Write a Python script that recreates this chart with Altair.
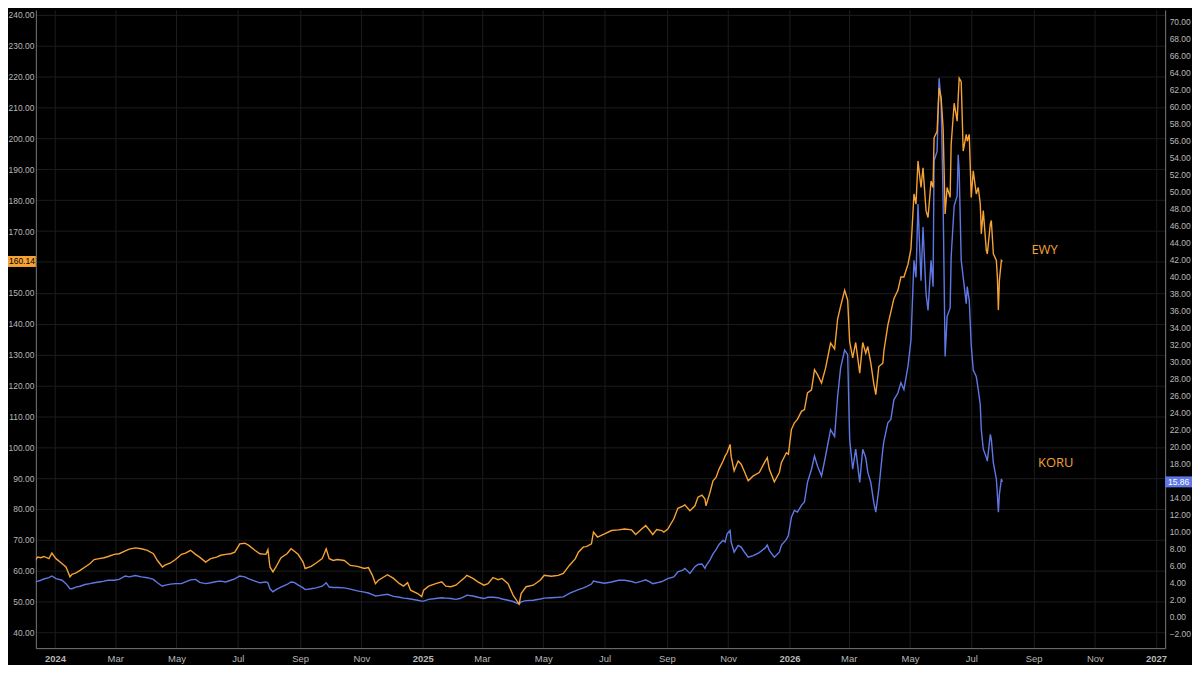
import altair as alt
import pandas as pd

# ---------------- data ----------------
dates = [
    "2023-12-07", "2023-12-12", "2023-12-15", "2023-12-18", "2023-12-21", "2023-12-26", "2023-12-29",
    "2024-01-02", "2024-01-08", "2024-01-12", "2024-01-16", "2024-01-18", "2024-01-22", "2024-01-26",
    "2024-01-31", "2024-02-05", "2024-02-09", "2024-02-14", "2024-02-19", "2024-02-23", "2024-02-29",
    "2024-03-05", "2024-03-11", "2024-03-15", "2024-03-21", "2024-03-27", "2024-04-02", "2024-04-08",
    "2024-04-12", "2024-04-17", "2024-04-19", "2024-04-25", "2024-04-30", "2024-05-06", "2024-05-10",
    "2024-05-15", "2024-05-20", "2024-05-24", "2024-05-30", "2024-06-04", "2024-06-10", "2024-06-14",
    "2024-06-19", "2024-06-24", "2024-06-28", "2024-07-03", "2024-07-08", "2024-07-12", "2024-07-18",
    "2024-07-23", "2024-07-29", "2024-07-31", "2024-08-02", "2024-08-05", "2024-08-08", "2024-08-13",
    "2024-08-19", "2024-08-23", "2024-08-26", "2024-08-30", "2024-09-04", "2024-09-06", "2024-09-12",
    "2024-09-17", "2024-09-23", "2024-09-27", "2024-09-30", "2024-10-04", "2024-10-08", "2024-10-15",
    "2024-10-21", "2024-10-28", "2024-11-04", "2024-11-08", "2024-11-12", "2024-11-15", "2024-11-18",
    "2024-11-27", "2024-12-03", "2024-12-09", "2024-12-13", "2024-12-17", "2024-12-20", "2024-12-27",
    "2024-12-31", "2025-01-02", "2025-01-07", "2025-01-14", "2025-01-20", "2025-01-24", "2025-01-29",
    "2025-02-03", "2025-02-07", "2025-02-12", "2025-02-14", "2025-02-20", "2025-02-25", "2025-03-03",
    "2025-03-07", "2025-03-12", "2025-03-17", "2025-03-21", "2025-03-27", "2025-04-01", "2025-04-07",
    "2025-04-09", "2025-04-14", "2025-04-21", "2025-04-28", "2025-05-02", "2025-05-09", "2025-05-16",
    "2025-05-21", "2025-05-27", "2025-06-02", "2025-06-05", "2025-06-10", "2025-06-13", "2025-06-18",
    "2025-06-20", "2025-06-24", "2025-07-01", "2025-07-08", "2025-07-15", "2025-07-21", "2025-07-28",
    "2025-08-01", "2025-08-07", "2025-08-11", "2025-08-15", "2025-08-18", "2025-08-22", "2025-08-27",
    "2025-08-29", "2025-09-02", "2025-09-08", "2025-09-12", "2025-09-17", "2025-09-19", "2025-09-24",
    "2025-09-29", "2025-10-02", "2025-10-06", "2025-10-09", "2025-10-10", "2025-10-14", "2025-10-17",
    "2025-10-20", "2025-10-23", "2025-10-27", "2025-10-29", "2025-10-31", "2025-11-03", "2025-11-04",
    "2025-11-07", "2025-11-11", "2025-11-14", "2025-11-17", "2025-11-21", "2025-11-26", "2025-12-02",
    "2025-12-08", "2025-12-10", "2025-12-12", "2025-12-17", "2025-12-22", "2025-12-24", "2025-12-29",
    "2025-12-31", "2026-01-03", "2026-01-06", "2026-01-09", "2026-01-13", "2026-01-16", "2026-01-19",
    "2026-01-23", "2026-01-26", "2026-01-29", "2026-02-02", "2026-02-06", "2026-02-11", "2026-02-15",
    "2026-02-18", "2026-02-21", "2026-02-25", "2026-02-28", "2026-03-02", "2026-03-05", "2026-03-08",
    "2026-03-12", "2026-03-15", "2026-03-18", "2026-03-20", "2026-03-23", "2026-03-26", "2026-03-28",
    "2026-03-31", "2026-04-04", "2026-04-05", "2026-04-09", "2026-04-12", "2026-04-15", "2026-04-19",
    "2026-04-22", "2026-04-25", "2026-04-29", "2026-05-02", "2026-05-05", "2026-05-07", "2026-05-09",
    "2026-05-12", "2026-05-14", "2026-05-17", "2026-05-19", "2026-05-22", "2026-05-24", "2026-05-25",
    "2026-05-28", "2026-05-30", "2026-06-01", "2026-06-03", "2026-06-05", "2026-06-07", "2026-06-10",
    "2026-06-11", "2026-06-14", "2026-06-17", "2026-06-18", "2026-06-19", "2026-06-21", "2026-06-23",
    "2026-06-26", "2026-06-27", "2026-06-29", "2026-07-01", "2026-07-03", "2026-07-06", "2026-07-08",
    "2026-07-10", "2026-07-11", "2026-07-13", "2026-07-16", "2026-07-17", "2026-07-20", "2026-07-21",
    "2026-07-23", "2026-07-26", "2026-07-27", "2026-07-28", "2026-07-29", "2026-07-31", "2026-08-01",
]

ewy = [
    61.4, 63.3, 64.4, 64.2, 64.6, 63.9, 65.7,
    63.9, 62.3, 61.2, 58.0, 58.8, 59.3, 60.1,
    61.2, 62.3, 63.6, 63.9, 64.2, 64.6, 65.3,
    65.5, 66.4, 67.0, 67.4, 67.1, 66.6, 65.5,
    63.3, 61.2, 61.7, 62.5, 63.6, 65.3, 65.7,
    66.6, 65.3, 64.4, 62.8, 63.9, 64.4, 65.0,
    65.3, 65.5, 66.0, 68.7, 68.9, 68.2, 66.6,
    65.5, 65.3, 66.8, 61.2, 59.6, 61.2, 64.2,
    65.5, 67.1, 66.4, 65.3, 62.8, 60.7, 61.4,
    62.5, 63.9, 67.1, 63.9, 63.3, 63.6, 63.3,
    61.7, 61.4, 60.7, 61.0, 58.5, 55.8, 56.9,
    58.7, 57.5, 55.8, 55.0, 56.1, 53.7, 52.6,
    51.6, 53.7, 55.0, 55.8, 56.4, 55.0, 54.8,
    55.3, 56.4, 57.8, 58.5, 57.5, 56.4, 55.3,
    55.8, 57.8, 57.1, 57.5, 55.8, 52.1, 49.2,
    52.6, 54.8, 55.3, 56.9, 58.5, 58.2, 58.5,
    59.1, 61.7, 63.9, 66.0, 67.7, 67.8, 68.7,
    72.5, 70.9, 71.9, 73.0, 73.2, 73.5, 73.2,
    71.7, 73.5, 74.6, 73.0, 71.7, 73.3, 73.0,
    72.5, 73.5, 76.8, 80.2, 80.9, 81.3, 79.4,
    81.0, 83.8, 84.5, 83.2, 81.0, 85.4, 89.1,
    90.2, 92.9, 95.5, 97.1, 98.2, 100.9, 97.1,
    92.3, 95.5, 94.5, 92.3, 89.1, 90.7, 91.8,
    95.5, 96.6, 92.9, 88.8, 91.8, 95.0, 98.2,
    97.7, 105.7, 107.9, 109.0, 111.6, 112.2, 117.6,
    118.6, 125.1, 123.5, 120.8, 125.6, 133.7, 131.8,
    141.5, 145.7, 150.8, 147.6, 134.2, 128.9, 133.9,
    124.0, 133.9, 130.4, 132.6, 127.3, 120.6, 117.0,
    126.1, 127.2, 131.0, 139.5, 143.8, 148.1, 150.8,
    155.1, 155.1, 159.2, 164.2, 182.0, 178.7, 192.7,
    184.1, 190.5, 176.6, 174.4, 186.2, 184.1, 200.2,
    202.3, 216.3, 213.1, 203.4, 175.5, 184.1, 180.9,
    198.0, 211.4, 205.6, 213.0, 219.5, 218.4, 195.9,
    201.3, 199.1, 201.3, 180.9, 189.5, 182.0, 184.1,
    178.7, 169.1, 176.6, 163.7, 162.6, 172.3, 173.4,
    162.6, 160.5, 155.1, 144.4, 154.0, 160.5, 160.14,
]

koru = [
    3.7, 4.1, 4.2, 4.3, 4.45, 4.6, 4.8,
    4.5, 4.3, 3.9, 3.3, 3.3, 3.5, 3.6,
    3.8, 3.9, 4.0, 4.1, 4.2, 4.3, 4.3,
    4.4, 4.8, 4.7, 4.85, 4.7, 4.6, 4.4,
    4.0, 3.6, 3.7, 3.85, 3.9, 3.9, 4.1,
    4.35, 4.4, 4.05, 3.9, 4.0, 4.15, 4.2,
    4.1, 4.3, 4.45, 4.8, 4.7, 4.45, 4.2,
    4.0, 4.1, 4.0, 3.3, 2.95, 3.2, 3.5,
    3.8, 4.1, 4.05, 3.75, 3.4, 3.2, 3.3,
    3.4, 3.6, 4.0, 3.5, 3.45, 3.45, 3.4,
    3.25, 3.05, 2.9, 2.8, 2.6, 2.45, 2.5,
    2.65, 2.4, 2.3, 2.2, 2.15, 2.1, 1.95,
    1.85, 1.85, 2.05, 2.15, 2.25, 2.2, 2.15,
    2.05, 2.15, 2.4, 2.55, 2.45, 2.3, 2.15,
    2.3, 2.3, 2.25, 2.1, 1.95, 1.8, 1.5,
    1.75, 1.9, 1.95, 2.1, 2.2, 2.25, 2.3,
    2.35, 2.75, 3.05, 3.2, 3.4, 3.55, 3.85,
    4.2, 4.1, 3.95, 4.1, 4.3, 4.3, 4.15,
    4.0, 4.2, 4.35, 4.1, 3.9, 4.0, 4.15,
    4.25, 4.5, 4.7, 5.3, 5.5, 5.7, 5.1,
    5.9, 6.15, 6.2, 5.7, 6.0, 6.7, 7.4,
    7.9, 8.5, 9.0, 8.8, 9.75, 10.15, 8.8,
    7.6, 8.4, 8.2, 7.65, 7.0, 7.2, 7.55,
    8.1, 8.45, 7.8, 7.0, 7.6, 8.4, 9.1,
    9.55, 11.7, 12.5, 12.3, 13.1, 13.5, 15.8,
    17.35, 18.9, 17.7, 16.55, 18.9, 22.0, 21.2,
    25.9, 29.25, 31.35, 30.8, 20.85, 17.35, 19.7,
    15.8, 19.7, 18.7, 17.0, 15.8, 13.45, 12.3,
    15.0, 19.7, 20.6, 22.8, 23.2, 25.5, 26.3,
    27.5, 26.7, 29.4, 32.5, 41.9, 39.9, 48.5,
    39.5, 45.8, 38.0, 36.0, 41.9, 38.8, 53.6,
    54.7, 63.3, 60.6, 48.9, 30.6, 35.3, 36.3,
    42.3, 48.3, 49.5, 54.3, 52.4, 41.9, 39.9,
    36.8, 38.8, 37.2, 31.9, 29.0, 28.25, 26.7,
    24.9, 22.0, 19.7, 18.75, 18.3, 21.45, 20.85,
    18.1, 16.2, 14.4, 12.3, 14.4, 16.2, 15.86,
]

x_ticks = [
    "2024-01-01", "2024-03-01", "2024-05-01", "2024-07-01", "2024-09-01", "2024-11-01",
    "2025-01-01", "2025-03-01", "2025-05-01", "2025-07-01", "2025-09-01", "2025-11-01",
    "2026-01-01", "2026-03-01", "2026-05-01", "2026-07-01", "2026-09-01", "2026-11-01",
    "2027-01-01",
]
ewy_ticks = [40, 50, 60, 70, 80, 90, 100, 110, 120, 130, 140, 150, 160, 170, 180, 190,
             200, 210, 220, 230, 240]
koru_ticks = [-4, -2, 0, 2, 4, 6, 8, 10, 12, 14, 16, 18, 20, 22, 24, 26, 28, 30, 32, 34,
              36, 38, 40, 42, 44, 46, 48, 50, 52, 54, 56, 58, 60, 62, 64, 66, 68, 70, 72]

ann_ewy_label, ann_ewy_date, ann_ewy_value = "EWY", "2026-09-12", 164.0
ann_koru_label, ann_koru_date, ann_koru_value = "KORU", "2026-09-23", 18.05

# ---------------- styling ----------------
ORANGE = "#F6A235"
BLUE = "#5F78E6"
BG = "#000000"
GRID = "#1c1c1c"
AXIS_LINE = "#7a7a7a"
LABEL = "#b8b8b8"
FONT = "Liberation Sans"
PLOT_W, PLOT_H = 1136, 642


def ms(s):
    return int(pd.Timestamp(s).value // 10**6)


df = pd.DataFrame({"date": dates, "EWY": ewy, "KORU": koru})
badge_l = pd.DataFrame({"EWY": [ewy[-1]], "label": [f"{ewy[-1]:.2f}"]})
badge_r = pd.DataFrame({"KORU": [koru[-1]], "label": [f"{koru[-1]:.2f}"]})
ann_l = pd.DataFrame({"date": [ann_ewy_date], "EWY": [ann_ewy_value], "label": [ann_ewy_label]})
ann_r = pd.DataFrame({"date": [ann_koru_date], "KORU": [ann_koru_value], "label": [ann_koru_label]})

x_enc = alt.X(
    "date:T",
    title=None,
    scale=alt.Scale(type="utc", domain=[ms("2023-12-13"), ms("2027-01-10")]),
    axis=alt.Axis(
        values=[ms(t) for t in x_ticks],
        labelExpr="utcmonth(datum.value) == 0 ? utcFormat(datum.value, '%Y') : utcFormat(datum.value, '%b')",
        labelFontWeight={"condition": {"test": "utcmonth(datum.value) == 0", "value": "bold"},
                         "value": "normal"},
        grid=True, gridColor=GRID, gridWidth=1,
        ticks=False, domainColor=AXIS_LINE, domainWidth=1,
        labelColor=LABEL, labelFontSize=9.5, labelFont=FONT, labelPadding=5,
        labelFlush=False, labelOverlap=False,
    ),
)

y_left = alt.Y(
    "EWY:Q",
    title=None,
    scale=alt.Scale(domain=[34.91, 241.61], nice=False, zero=False),
    axis=alt.Axis(
        orient="left", values=ewy_ticks, format=".2f",
        grid=True, gridColor=GRID, gridWidth=1,
        ticks=False, domainColor=AXIS_LINE, domainWidth=1,
        labelColor=LABEL, labelFontSize=8.5, labelFont=FONT, labelPadding=2,
        labelOverlap=False,
    ),
)

y_right = alt.Y(
    "KORU:Q",
    title=None,
    scale=alt.Scale(domain=[-3.68, 71.32], nice=False, zero=False),
    axis=alt.Axis(
        orient="right", values=koru_ticks, format=".2f",
        grid=False, ticks=False, domainColor=AXIS_LINE, domainWidth=1,
        labelColor=LABEL, labelFontSize=8.5, labelFont=FONT, labelPadding=4,
        labelOverlap=False,
    ),
)

# ---- KORU group (right axis)
koru_line = alt.Chart(df).mark_line(color=BLUE, strokeWidth=1.4, clip=True).encode(x=x_enc, y=y_right)
koru_badge = alt.Chart(badge_r).mark_tick(
    color=BLUE, orient="horizontal", size=27, thickness=11, opacity=1
).encode(x=alt.value(PLOT_W + 13.5), y=y_right)
koru_badge_text = alt.Chart(badge_r).mark_text(
    color="#ffffff", fontSize=8.5, font=FONT, align="center", baseline="middle"
).encode(x=alt.value(PLOT_W + 13.5), y=y_right, text="label:N")
koru_ann = alt.Chart(ann_r).mark_text(
    color=ORANGE, fontSize=13, font="Open Sans", fontWeight="normal", align="center", baseline="middle"
).encode(x=x_enc, y=y_right, text="label:N")
right_group = alt.layer(koru_line, koru_badge, koru_badge_text, koru_ann)

# ---- EWY group (left axis)
ewy_line = alt.Chart(df).mark_line(color=ORANGE, strokeWidth=1.4, clip=True).encode(x=x_enc, y=y_left)
ewy_badge = alt.Chart(badge_l).mark_tick(
    color=ORANGE, orient="horizontal", size=28, thickness=11, opacity=1
).encode(x=alt.value(-14), y=y_left)
ewy_badge_text = alt.Chart(badge_l).mark_text(
    color="#000000", fontSize=8.5, font=FONT, align="center", baseline="middle"
).encode(x=alt.value(-14), y=y_left, text="label:N")
ewy_ann = alt.Chart(ann_l).mark_text(
    color=ORANGE, fontSize=13, font="Open Sans", fontWeight="normal", align="center", baseline="middle"
).encode(x=x_enc, y=y_left, text="label:N")
left_group = alt.layer(ewy_line, ewy_badge, ewy_badge_text, ewy_ann)

chart = (
    alt.layer(right_group, left_group)
    .resolve_scale(y="independent")
    .properties(
        width=PLOT_W,
        height=PLOT_H,
        background=BG,
        padding={"left": 0, "right": 0, "top": 0, "bottom": 0},
    )
    .configure_view(stroke=None, fill=BG)
)

chart.save("out.html", embed_options={"renderer": "svg", "actions": False})
